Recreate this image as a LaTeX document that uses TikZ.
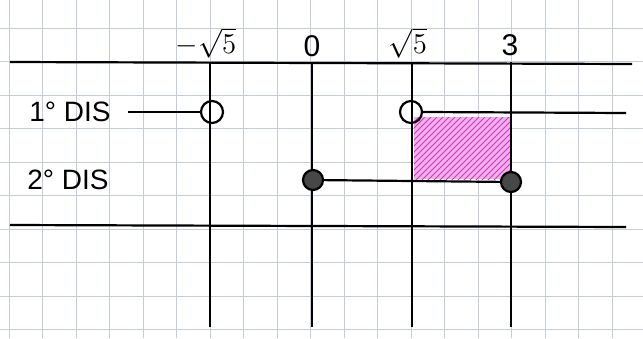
\documentclass[tikz,border=0pt]{standalone}
\usepackage{fontspec}
\setmainfont{Liberation Sans}
\usetikzlibrary{patterns}
\definecolor{gridblue}{RGB}{196,204,218}
\definecolor{hatchpink}{RGB}{214,50,200}
\definecolor{fillpink}{RGB}{238,178,232}
\tikzset{
  opendot/.style={circle, draw, line width=1.1pt, inner sep=0pt, minimum width=10pt, minimum height=11pt},
  fulldot/.style={circle, draw, fill=black!72, line width=1.1pt, inner sep=0pt, minimum size=10pt},
  tag/.style={font=\fontsize{15}{17}\selectfont},
  rowtag/.style={font=\fontsize{14}{16}\selectfont}
}
\begin{document}
\begin{tikzpicture}[x=0.5pt, y=-0.5pt, line width=1.1pt]
\useasboundingbox (0,0) rectangle (643,338);
\fill[white] (0,0) rectangle (643,338);
% squared paper
\foreach \gx in {0,...,18}
  \draw[gridblue, line width=0.5pt] ({9+33.5*\gx},0) -- ({9+33.5*\gx},338);
\foreach \gy in {0,...,9}
  \draw[gridblue, line width=0.5pt] (0,{28+33.5*\gy}) -- (643,{28+33.5*\gy});
% shaded interval
\fill[fillpink] (414,117) rectangle (511,179);
\fill[pattern=north east lines, pattern color=hatchpink] (414,117) rectangle (511,179);
% frame lines
\coordinate (topL) at (10,62);
\coordinate (topR) at (632,64);
\coordinate (botL) at (10,225);
\coordinate (botR) at (626,227);
\draw (topL) -- (topR);
\draw (botL) -- (botR);
% critical points
\node[tag] (msq) at (206,43) {$-\sqrt{5}$};
\node[tag] (zero) at (312,46) {0};
\node[tag] (psq) at (408,43) {$\sqrt{5}$};
\node[tag] (three) at (510,45) {3};
\foreach \px/\nm in {210/ma, 312/za, 412/pa, 511/ta}
  \draw (\px,62) coordinate (\nm) -- (\px,327);
% row labels
\node[rowtag] (dis1) at (70,112) {1° DIS};
\node[rowtag] (dis2) at (68,180) {2° DIS};
% first row
\coordinate (s1) at (128,112);
\coordinate (e1) at (626,113);
\node[opendot] (a1) at (212,112) {};
\node[opendot] (b1) at (411,112) {};
\draw (s1) -- (a1);
\draw (b1.east) -- (e1);
% second row
\node[fulldot] (c2) at (313,180) {};
\node[fulldot] (d2) at (511,182) {};
\draw (c2) -- (d2);
\end{tikzpicture}
\end{document}
